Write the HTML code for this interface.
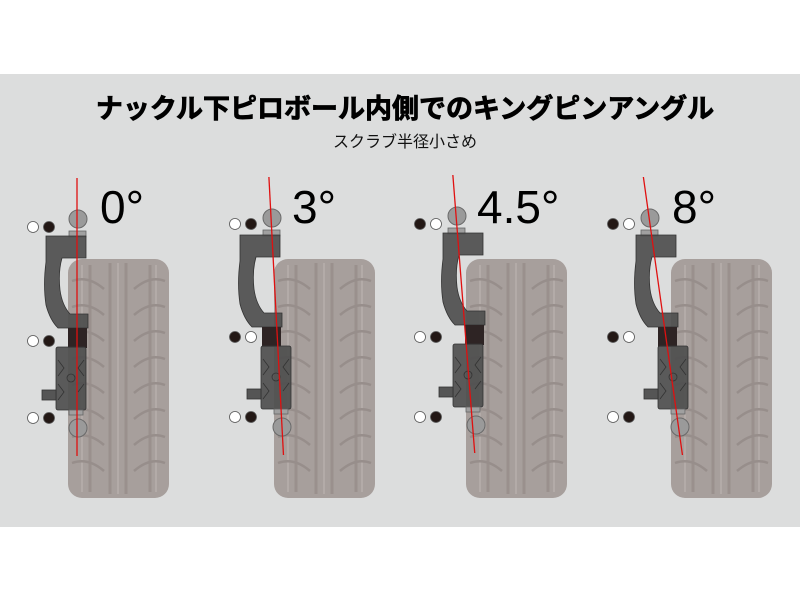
<!DOCTYPE html>
<html><head><meta charset="utf-8"><style>
html,body{margin:0;padding:0;background:#fff;width:800px;height:600px;overflow:hidden}
svg{display:block}
</style></head><body>
<svg width="800" height="600" viewBox="0 0 800 600" xmlns="http://www.w3.org/2000/svg">
<defs>
<g id="tire">
  <rect x="0" y="0" width="101" height="239" rx="14" fill="#a79f9c"/>
  <g stroke="#9a908d" stroke-width="3" fill="none">
    <line x1="22" y1="6" x2="22" y2="233"/>
    <line x1="42" y1="4" x2="42" y2="235"/>
    <line x1="58" y1="4" x2="58" y2="235"/>
    <line x1="82" y1="6" x2="82" y2="233"/>
  </g>
  <g stroke="#b3aba8" stroke-width="2" fill="none">
    <line x1="14" y1="6" x2="14" y2="233"/>
    <line x1="88" y1="6" x2="88" y2="233"/>
    <line x1="50" y1="4" x2="50" y2="235"/>
  </g>
  <g stroke="#978e8b" stroke-width="2.5" fill="none">
    <path d="M4,22 Q20,16 36,30"/><path d="M4,48 Q20,42 36,56"/><path d="M4,74 Q20,68 36,82"/><path d="M4,100 Q20,94 36,108"/><path d="M4,126 Q20,120 36,134"/><path d="M4,152 Q20,146 36,160"/><path d="M4,178 Q20,172 36,186"/><path d="M4,204 Q20,198 36,212"/>
    <path d="M97,22 Q82,16 66,30"/><path d="M97,48 Q82,42 66,56"/><path d="M97,74 Q82,68 66,82"/><path d="M97,100 Q82,94 66,108"/><path d="M97,126 Q82,120 66,134"/><path d="M97,152 Q82,146 66,160"/><path d="M97,178 Q82,172 66,186"/><path d="M97,204 Q82,198 66,212"/>
  </g>
</g>
<g id="topball">
  <circle cx="78" cy="219" r="9" fill="#9a9a9a" stroke="#6a6a6a" stroke-width="1"/>
  <rect x="69" y="231" width="17" height="6" fill="#a0a0a0" stroke="#666" stroke-width="0.8"/>
</g>
<path id="arm" d="M46,236 H86 V258 H62 Q58,272 60,290 Q62,305 70,314 H88 V328 H58 Q50,320 46,305 Q43,285 46,262 Z" fill="#4e4e4e" fill-opacity="0.92" stroke="#333" stroke-width="0.8"/>
<rect id="block" x="68" y="328" width="19" height="20" fill="#2e2424"/>
<g id="body">
  <rect x="56" y="347" width="30" height="63" rx="2" fill="#4e4e4e" fill-opacity="0.92" stroke="#333" stroke-width="0.8"/>
  <circle cx="71" cy="378" r="4" fill="none" stroke="#333" stroke-width="0.8"/>
  <path d="M58,360 L64,368 L58,376 M84,360 L78,368 L84,376 M58,384 L64,392 L58,400 M84,384 L78,392" fill="none" stroke="#333" stroke-width="0.8"/>
  <rect x="42" y="390" width="14" height="10" fill="#555" stroke="#333" stroke-width="0.8"/>
  <rect x="69" y="410" width="14" height="5" fill="#a0a0a0" stroke="#666" stroke-width="0.8"/>
</g>
<circle id="botball" cx="78" cy="428" r="9" fill="#9a9a9a" stroke="#6a6a6a" stroke-width="1"/>
<line id="red" x1="77" y1="178" x2="77" y2="456" stroke="#e01010" stroke-width="1.3"/>
</defs>
<rect x="0" y="74" width="800" height="453" fill="#dcdddd"/>
<text x="405" y="118" text-anchor="middle" font-family="'Liberation Sans','Noto Sans CJK JP',sans-serif" font-weight="bold" font-size="27" fill="#000" stroke="#000" stroke-width="0.8">ナックル下ピロボール内側でのキングピンアングル</text>
<text x="405" y="147" text-anchor="middle" font-family="'Liberation Sans','Noto Sans CJK JP',sans-serif" font-size="16" fill="#111">スクラブ半径小さめ</text>

<g font-family="'Liberation Sans',sans-serif" font-size="46" fill="#000">
<text x="100" y="223">0°</text>
<text x="292" y="223">3°</text>
<text x="477" y="223">4.5°</text>
<text x="672" y="223">8°</text>
</g>

<use href="#tire" x="68" y="259"/>
<use href="#tire" x="274" y="259"/>
<use href="#tire" x="466" y="259"/>
<use href="#tire" x="671" y="259"/>

<g>
<use href="#topball"/><use href="#arm"/><use href="#block"/><use href="#body"/><use href="#botball"/><use href="#red"/>
</g>
<g transform="translate(194,-1)">
<use href="#topball"/><use href="#arm"/><use href="#block"/><use href="#body" x="11"/><use href="#botball" x="10"/>
<g transform="translate(78,218) skewX(3) translate(-78,-218)"><use href="#red"/></g>
</g>
<g transform="translate(379,-3)">
<use href="#topball"/><use href="#arm" x="18"/><use href="#block" x="18"/><use href="#body" x="18"/><use href="#botball" x="19"/>
<g transform="translate(78,218) skewX(4.5) translate(-78,-218)"><use href="#red"/></g>
</g>
<g transform="translate(572,-1)">
<use href="#topball"/><use href="#arm" x="18"/><use href="#block" x="18"/><use href="#body" x="30"/><use href="#botball" x="30"/>
<g transform="translate(78,218) skewX(8) translate(-78,-218)"><use href="#red"/></g>
</g>

<g stroke="#555" stroke-width="0.8">
<circle cx="33" cy="227" r="5.5" fill="#fff"/><circle cx="49" cy="227" r="5.5" fill="#231815"/>
<circle cx="33" cy="341" r="5.5" fill="#fff"/><circle cx="49" cy="341" r="5.5" fill="#231815"/>
<circle cx="33" cy="418" r="5.5" fill="#fff"/><circle cx="49" cy="418" r="5.5" fill="#231815"/>
<circle cx="235" cy="224" r="5.5" fill="#fff"/><circle cx="251" cy="224" r="5.5" fill="#231815"/>
<circle cx="235" cy="337" r="5.5" fill="#231815"/><circle cx="251" cy="337" r="5.5" fill="#fff"/>
<circle cx="235" cy="417" r="5.5" fill="#fff"/><circle cx="251" cy="417" r="5.5" fill="#231815"/>
<circle cx="420" cy="224" r="5.5" fill="#231815"/><circle cx="436" cy="224" r="5.5" fill="#fff"/>
<circle cx="420" cy="337" r="5.5" fill="#fff"/><circle cx="436" cy="337" r="5.5" fill="#231815"/>
<circle cx="420" cy="417" r="5.5" fill="#fff"/><circle cx="436" cy="417" r="5.5" fill="#231815"/>
<circle cx="613" cy="224" r="5.5" fill="#231815"/><circle cx="629" cy="224" r="5.5" fill="#fff"/>
<circle cx="613" cy="337" r="5.5" fill="#231815"/><circle cx="629" cy="337" r="5.5" fill="#fff"/>
<circle cx="613" cy="417" r="5.5" fill="#fff"/><circle cx="629" cy="417" r="5.5" fill="#231815"/>
</g>
</svg>
</body></html>
